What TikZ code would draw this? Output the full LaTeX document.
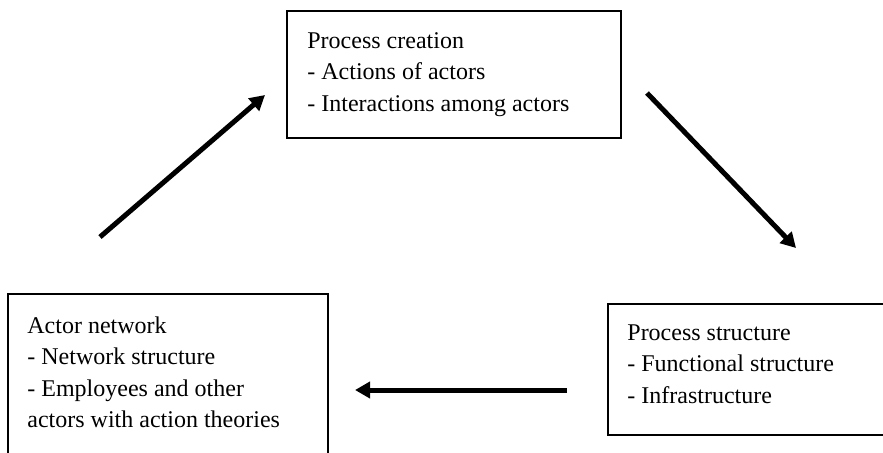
\documentclass[tikz,border=0pt]{standalone}
\usepackage{fontspec}
\setmainfont{Liberation Serif}
\usetikzlibrary{arrows.meta}
\tikzset{
  box/.style={draw, line width=1pt, inner sep=0pt, anchor=north west},
  boxtext/.style={anchor=north west, inner sep=0pt, align=left,
    font=\fontsize{12pt}{15.75pt}\selectfont},
  flow/.style={line width=2.5pt, -{Triangle[length=7.5pt,width=8pt]}}
}
\begin{document}
\begin{tikzpicture}[x=0.5pt, y=-0.5pt]
\clip (0,0) rectangle (883,452);
% Boxes
\node[box, minimum width=167pt, minimum height=63.5pt] (creation) at (286,10) {};
\node[box, minimum width=160pt, minimum height=82.5pt] (network) at (7,293) {};
\node[box, minimum width=144pt, minimum height=65.5pt] (structure) at (607,303) {};
% Texts
\node[boxtext] (creationtext) at ([shift={(10.5pt,-11pt)}]creation.north west)
  {Process creation\\- Actions of actors\\- Interactions among actors};
\node[boxtext] (networktext) at ([shift={(10pt,-11.5pt)}]network.north west)
  {Actor network\\- Network structure\\- Employees and other\\actors with action theories};
\node[boxtext] (structuretext) at ([shift={(10pt,-10.5pt)}]structure.north west)
  {Process structure\\- Functional structure\\- Infrastructure};
% Arrows
\coordinate (networkout) at (100,237);
\coordinate (creationin) at (265,95);
\coordinate (creationout) at (647,93);
\coordinate (structurein) at (796,248);
\coordinate (structureout) at (567,390);
\coordinate (networkin) at (355,390);
\draw[flow] (networkout) -- (creationin);
\draw[flow] (creationout) -- (structurein);
\draw[flow] (structureout) -- (networkin);
\end{tikzpicture}
\end{document}
